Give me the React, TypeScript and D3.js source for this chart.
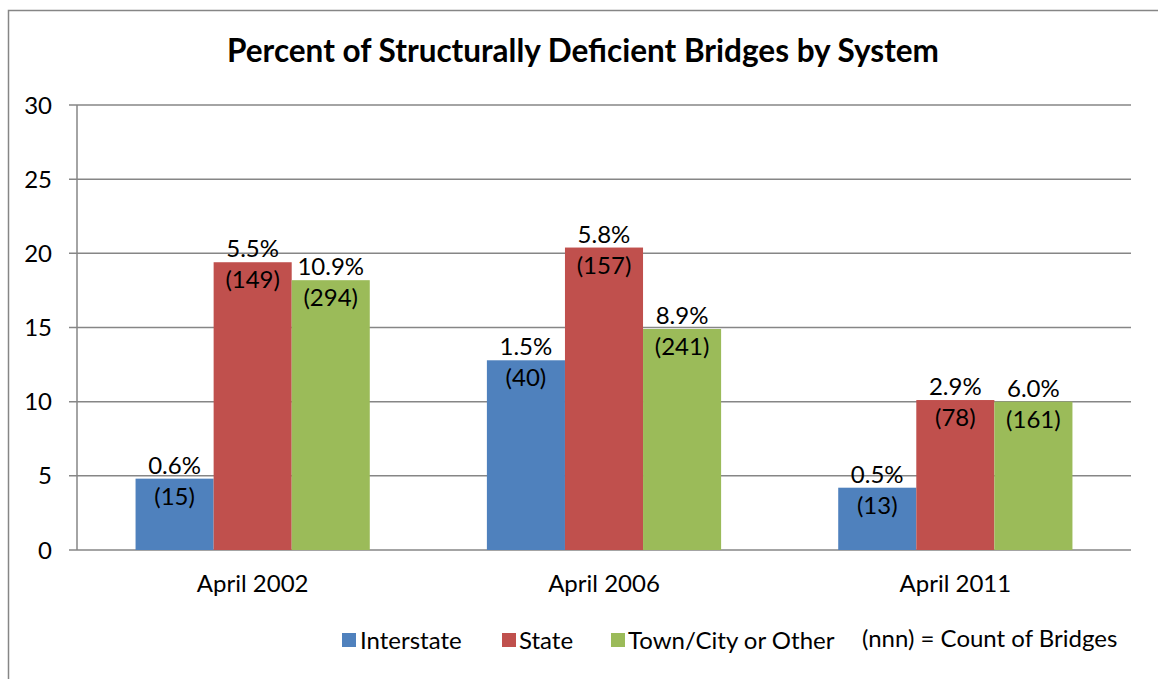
import React from "react";
import * as d3 from "d3";

const categories = ["April 2002", "April 2006", "April 2011"];
const seriesNames = ["Interstate", "State", "Town/City or Other"];
const seriesColors = ["#4F81BD", "#C0504D", "#9BBB59"];
const interstateValues = [4.81, 12.79, 4.2];
const stateValues = [19.4, 20.39, 10.11];
const townValues = [18.19, 14.9, 10.0];
const interstatePct = ["0.6%", "1.5%", "0.5%"];
const statePct = ["5.5%", "5.8%", "2.9%"];
const townPct = ["10.9%", "8.9%", "6.0%"];
const interstateCount = ["(15)", "(40)", "(13)"];
const stateCount = ["(149)", "(157)", "(78)"];
const townCount = ["(294)", "(241)", "(161)"];
const yTicks = [0, 5, 10, 15, 20, 25, 30];
const title = "Percent of Structurally Deficient Bridges by System";
const noteText = "(nnn) = Count of Bridges";

const W = 1158;
const H = 679;
const FONT = "Lato, 'Open Sans', sans-serif";
const FS = 24;

export default function App() {
  const plot = { left: 77, right: 1131, top: 105, bottom: 550 };
  const y = d3.scaleLinear().domain([0, 30]).range([plot.bottom, plot.top]);
  const x0 = d3.scaleBand<string>().domain(categories).range([plot.left, plot.right]).padding(0);
  const x1 = d3
    .scaleBand<string>()
    .domain(seriesNames)
    .range([0, x0.bandwidth()])
    .paddingInner(0)
    .paddingOuter(0.75);

  const values = [interstateValues, stateValues, townValues];
  const pcts = [interstatePct, statePct, townPct];
  const counts = [interstateCount, stateCount, townCount];

  const legendItems = [
    { sx: 342, tx: 360 },
    { sx: 502, tx: 519 },
    { sx: 611, tx: 628 },
  ];

  return (
    <svg
      width={W}
      height={H}
      style={{ position: "absolute", left: 0, top: 0, background: "#fff" }}
      fontFamily={FONT}
    >
      <rect x={8.5} y={10.5} width={1170} height={700} fill="#fff" stroke="#868686" strokeWidth={1.5} />
      <text x={583} y={62} textAnchor="middle" fontSize={31.5} fontWeight="bold" fill="#000">
        {title}
      </text>
      {yTicks.map((t) => (
        <g key={t}>
          <line x1={69} x2={plot.right} y1={y(t)} y2={y(t)} stroke="#868686" strokeWidth={1.5} />
          <text x={52} y={y(t)} dy="0.36em" textAnchor="end" fontSize={FS} fill="#000">
            {t}
          </text>
        </g>
      ))}
      <line x1={plot.left} x2={plot.left} y1={plot.top} y2={plot.bottom} stroke="#868686" strokeWidth={1.5} />
      {categories.map((c, ci) => (
        <g key={c} transform={`translate(${x0(c)},0)`}>
          {seriesNames.map((s, si) => {
            const v = values[si][ci];
            const bx = x1(s) as number;
            const bw = x1.bandwidth();
            return <rect key={s} x={bx} y={y(v)} width={bw} height={y(0) - y(v)} fill={seriesColors[si]} />;
          })}
        </g>
      ))}
      {categories.map((c, ci) => (
        <g key={c + "l"} transform={`translate(${x0(c)},0)`}>
          {seriesNames.map((s, si) => {
            const v = values[si][ci];
            const cx = (x1(s) as number) + x1.bandwidth() / 2;
            return (
              <g key={s}>
                <text x={cx} y={y(v) - 5} textAnchor="middle" fontSize={FS} fill="#000">
                  {pcts[si][ci]}
                </text>
                <text x={cx} y={y(v) + 26} textAnchor="middle" fontSize={FS} fill="#000">
                  {counts[si][ci]}
                </text>
              </g>
            );
          })}
        </g>
      ))}
      {categories.map((c) => (
        <text
          key={c + "c"}
          x={(x0(c) as number) + x0.bandwidth() / 2}
          y={592}
          textAnchor="middle"
          fontSize={FS}
          fill="#000"
        >
          {c}
        </text>
      ))}
      {seriesNames.map((s, si) => (
        <g key={s + "leg"}>
          <rect x={legendItems[si].sx} y={633} width={14} height={14} fill={seriesColors[si]} />
          <text x={legendItems[si].tx} y={649} fontSize={FS} fill="#000">
            {s}
          </text>
        </g>
      ))}
      <text x={862} y={647} fontSize={FS} fill="#000">
        {noteText}
      </text>
    </svg>
  );
}
